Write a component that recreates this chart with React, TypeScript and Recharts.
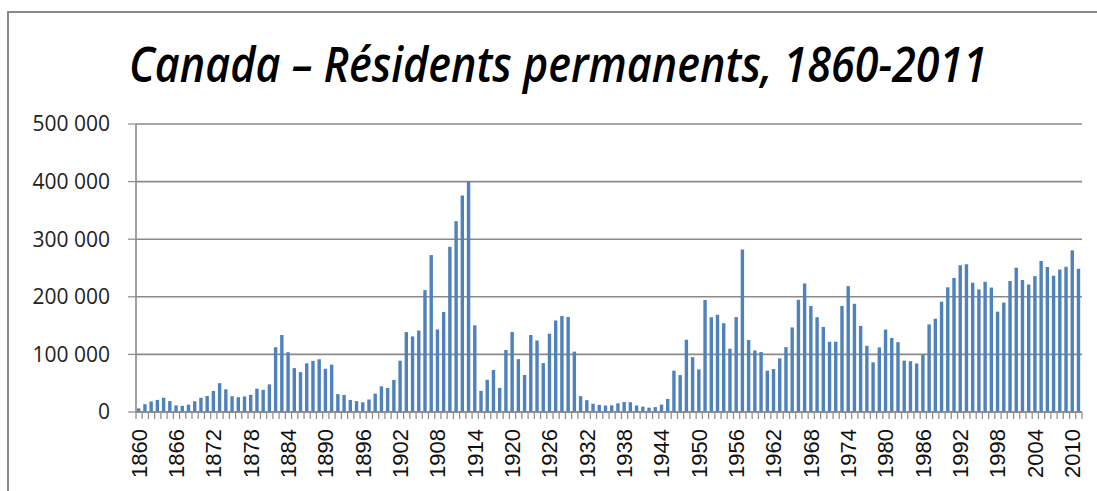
import React from 'react'
import { Bar, BarChart, CartesianGrid, XAxis, YAxis } from 'recharts'

const firstYear = 1860
const lastYear = 2011

// Résidents permanents admis au Canada, 1860-2011
const residents = [
  6276, 13589, 18294, 21000, 24779, 18958, 11427, 10666, 12765, 18630,
  24706, 27773, 36578, 50050, 39373, 27382, 25633, 27082, 29807, 40492,
  38505, 47991, 112458, 133624, 103824, 76169, 69152, 84526, 88766, 91600,
  75067, 82165, 30996, 29633, 20829, 18790, 16835, 21716, 31900, 44543,
  41681, 55747, 89102, 138660, 131252, 141465, 211653, 272409, 143326, 173694,
  286839, 331288, 375756, 400870, 150484, 36665, 55914, 72910, 41845, 107698,
  138824, 91728, 64224, 133729, 124164, 84907, 135982, 158886, 166783, 164993,
  104806, 27530, 20591, 14382, 12476, 11277, 11643, 15101, 17244, 16994,
  11324, 9329, 7576, 8504, 12801, 22722, 71719, 64127, 125414, 95217,
  73912, 194391, 164498, 168868, 154227, 109946, 164857, 282164, 124851, 106928,
  104111, 71689, 74586, 93151, 112606, 146758, 194743, 222876, 183974, 164531,
  147713, 121900, 122006, 184200, 218465, 187881, 149429, 114914, 86313, 112096,
  143117, 128618, 121147, 89157, 88239, 84302, 99219, 152098, 161929, 191556,
  216452, 232744, 254817, 256641, 224364, 212864, 226071, 216038, 174195, 189951,
  227458, 250637, 229048, 221349, 235823, 262242, 251640, 236753, 247246, 252179,
  280681, 248748,
]

const tickLabels = [
  '1860', '1866', '1872', '1878', '1884', '1890', '1896', '1902', '1908', '1914',
  '1920', '1926', '1932', '1938', '1944', '1950', '1956', '1962', '1968', '1974',
  '1980', '1986', '1992', '1998', '2004', '2010',
]

const yTicks = [0, 100000, 200000, 300000, 400000, 500000]

const years: string[] = []
for (let y = firstYear; y <= lastYear; y++) years.push(String(y))

const data = years.map((year, i) => ({ year, value: residents[i] }))

const W = 1097
const H = 491
const LEFT = 136
const RIGHT = 15
const TOP = 124
const BOTTOM = 79
const BAND = (W - LEFT - RIGHT) / data.length
const GRAY = '#8a8a8a'

const fmt = (v: number) => String(v).replace(/\B(?=(\d{3})+(?!\d))/g, ' ')

const XTick = (props: any) => {
  const { x, y, payload, index } = props
  const show = tickLabels.includes(String(payload.value))
  return (
    <g>
      <line x1={x - BAND / 2} x2={x - BAND / 2} y1={y} y2={y + 7} stroke={GRAY} strokeWidth={1.2} />
      {index === data.length - 1 && (
        <line x1={x + BAND / 2} x2={x + BAND / 2} y1={y} y2={y + 7} stroke={GRAY} strokeWidth={1.2} />
      )}
      {show && (
        <text
          transform={`translate(${x},${y + 17}) rotate(-90)`}
          textAnchor="end"
          dominantBaseline="central"
          fontFamily="'Liberation Sans', Arial, sans-serif"
          fontSize={22}
          fill="#111"
        >
          {payload.value}
        </text>
      )}
    </g>
  )
}

export default function App() {
  return (
    <div style={{ position: 'absolute', left: 0, top: 0, width: W, height: H, overflow: 'hidden', background: '#fff' }}>
      <div
        style={{
          position: 'absolute',
          left: 7,
          top: 11,
          width: W + 20,
          height: H + 20,
          border: `2px solid ${GRAY}`,
        }}
      />
      <svg width={W} height={120} style={{ position: 'absolute', left: 0, top: 0 }}>
        <text
          x={129}
          y={82}
          textLength={858}
          lengthAdjust="spacingAndGlyphs"
          fontFamily="'Open Sans', sans-serif"
          fontStyle="italic"
          fontWeight={600}
          fontSize={48}
          fill="#000"
        >
          Canada – Résidents permanents, 1860-2011
        </text>
      </svg>
      <div style={{ position: 'absolute', left: 0, top: 0 }}>
        <BarChart
          width={W}
          height={H}
          data={data}
          margin={{ top: TOP, right: RIGHT, left: 0, bottom: 0 }}
          barSize={3.4}
        >
          <CartesianGrid vertical={false} stroke={GRAY} strokeWidth={1.6} />
          <XAxis
            dataKey="year"
            interval={0}
            height={BOTTOM}
            tickSize={0}
            tickMargin={0}
            tickLine={false}
            tick={<XTick />}
            axisLine={{ stroke: GRAY, strokeWidth: 1.6 }}
          />
          <YAxis
            width={LEFT}
            domain={[0, 500000]}
            ticks={yTicks}
            tickFormatter={fmt}
            tickSize={8}
            tickMargin={18}
            tickLine={{ stroke: GRAY, strokeWidth: 1.2 }}
            axisLine={{ stroke: GRAY, strokeWidth: 1.6 }}
            tick={{ fontFamily: "'Open Sans', sans-serif", fontSize: 21, fill: '#222' }}
          />
          <Bar dataKey="value" fill="#4f81bd" isAnimationActive={false} />
        </BarChart>
      </div>
    </div>
  )
}
